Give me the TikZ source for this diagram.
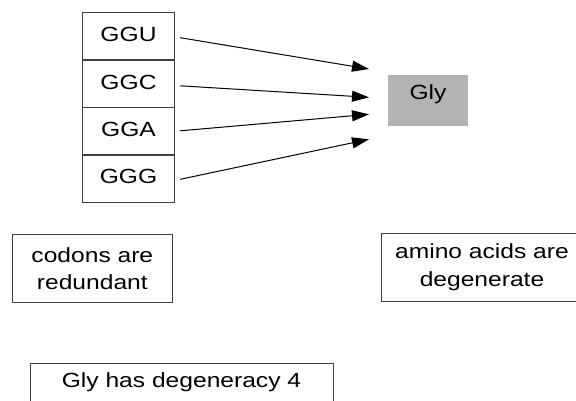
\documentclass[tikz,border=0pt]{standalone}
\usepackage{fontspec}
\setmainfont{Liberation Sans}[FakeStretch=1.2]
\usetikzlibrary{arrows.meta}
\definecolor{boxline}{HTML}{404040}
\definecolor{glyfill}{HTML}{B3B3B3}
\tikzset{
  txt/.style={font=\fontsize{20.5}{27.5}\selectfont, text=black},
  codon/.style={txt, draw=boxline, line width=0.9pt, minimum width=91.6pt, minimum height=47pt, inner sep=0pt, text height=14.7pt, text depth=4.3pt},
  aminobox/.style={txt, fill=glyfill, draw=none, minimum width=80pt, minimum height=51pt, inner sep=0pt, text height=14.7pt, text depth=16.4pt},
  notebox/.style={txt, draw=boxline, line width=0.9pt, inner sep=0pt, align=center},
  link/.style={line width=1pt, -{Triangle[length=17pt,width=11pt]}}
}
\begin{document}
\begin{tikzpicture}[x=1pt,y=-1pt]
\useasboundingbox (0,0) rectangle (576,400);
\begin{scope}
\clip (0,0) rectangle (576,400);
\node[codon] (ggu) at (128.5,36.3) {GGU};
\node[codon] (ggc) at (128.5,83.8) {GGC};
\node[codon] (gga) at (128.5,130.8) {GGA};
\node[codon] (ggg) at (128.5,178.5) {GGG};
\node[aminobox] (gly) at (428,100.5) {Gly};
\coordinate (e1) at (369,69);
\coordinate (e2) at (369,97.3);
\coordinate (e3) at (369,114.3);
\coordinate (e4) at (369,139.3);
\draw[link] ([xshift=5.5pt,yshift=-1.4pt]ggu.east) -- (e1);
\draw[link] ([xshift=5.5pt,yshift=-2pt]ggc.east) -- (e2);
\draw[link] ([xshift=5.5pt,yshift=0pt]gga.east) -- (e3);
\draw[link] ([xshift=5.5pt,yshift=-0.8pt]ggg.east) -- (e4);
\node[notebox, minimum width=159.3pt, minimum height=68.4pt] (red) at (92.35,268.5) {codons are\\redundant};
\node[notebox, minimum width=202pt, minimum height=67.7pt] (deg) at (482,267.2) {amino acids are\\degenerate};
\node[notebox, minimum width=303pt, minimum height=46pt, text height=14.7pt, text depth=11.6pt] (gdeg) at (181.5,386.3) {Gly has degeneracy 4};
\end{scope}
\end{tikzpicture}
\end{document}
